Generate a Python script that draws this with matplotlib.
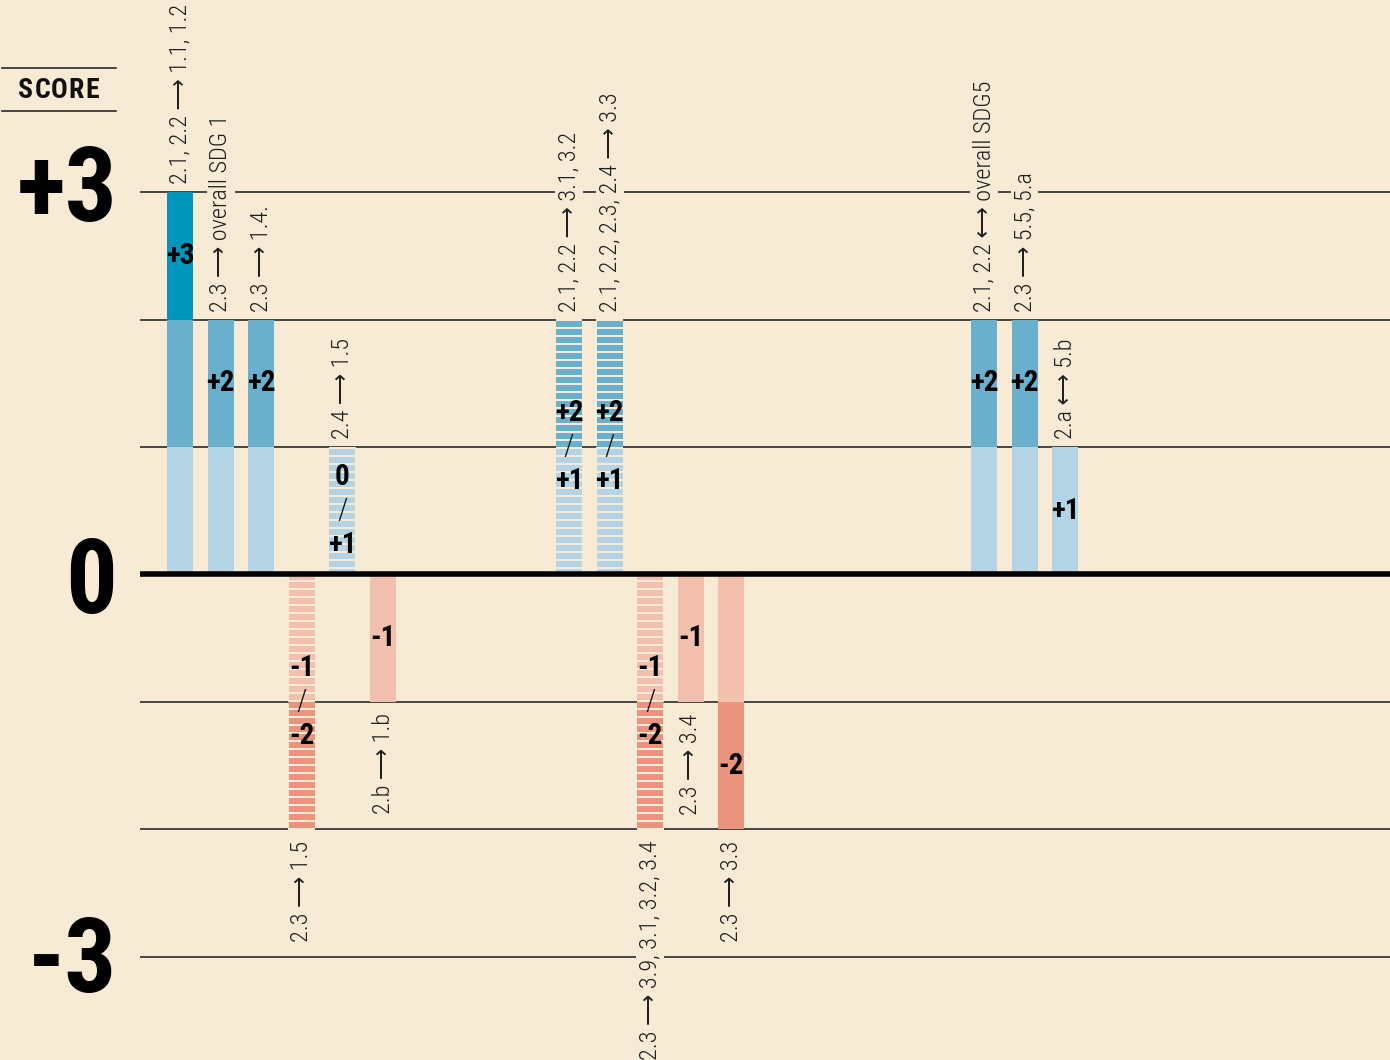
import matplotlib
matplotlib.use('Agg')
import matplotlib.pyplot as plt
from matplotlib.lines import Line2D
from matplotlib import font_manager as fm
import numpy as np

# pick a narrow face if one is installed
have = set(f.name for f in fm.fontManager.ttflist)
FONT = 'DejaVu Sans'
for cand in ['Roboto Condensed', 'Liberation Sans Narrow', 'Open Sans Condensed',
             'Noto Sans Condensed', 'DejaVu Sans Condensed']:
    if cand in have:
        FONT = cand
        break
plt.rcParams['font.family'] = [FONT, 'DejaVu Sans']
plt.rcParams['font.stretch'] = 'condensed'

# links between SDG2 targets and other SDG targets, scored -3..+3
links = ['2.1, 2.2 \u27f6 1.1, 1.2', '2.3 \u27f6 overall SDG 1', '2.3 \u27f6 1.4.',
         '2.3 \u27f6 1.5', '2.4 \u27f6 1.5', '2.b \u27f6 1.b',
         '2.1, 2.2 \u27f6 3.1, 3.2', '2.1, 2.2, 2.3, 2.4 \u27f6 3.3',
         '2.3 \u27f6 3.9, 3.1, 3.2, 3.4', '2.3 \u27f6 3.4', '2.3 \u27f6 3.3',
         '2.1, 2.2 \u27f7 overall SDG5', '2.3 \u27f6 5.5, 5.a', '2.a \u27f7 5.b']
extent = [3, 2, 2, -2, 1, -1, 2, 2, -2, -1, -2, 2, 2, 1]
score_txt = ['+3', '+2', '+2', '-1/-2', '0/+1', '-1', '+2/+1', '+2/+1',
             '-1/-2', '-1', '-2', '+2', '+2', '+1']
group = [0, 0, 0, 0, 0, 0, 1, 1, 1, 1, 1, 2, 2, 2]
axis_marks = [3, 0, -3]
axis_txt = ['+3', '0', '-3']

BG = '#f7ebd6'
pos_cols = ['#b4d4e6', '#6ab0cd', '#0096bc']
neg_cols = ['#f3bfae', '#ea937d', '#e06a55']

fig = plt.figure(figsize=(13.9, 10.6), dpi=100, facecolor=BG)
ax = fig.add_axes([140/1390., 0, 1 - 140/1390., 1])
ax.set_facecolor(BG)
for s in ax.spines.values():
    s.set_visible(False)

group_start = [0, 9.58, 19.8]
xs = []
cnt = {}
for g in group:
    k = cnt.get(g, 0)
    xs.append(group_start[g] + k)
    cnt[g] = k + 1

ax.set_xlim(-0.985, 29.8)
ax.set_ylim(-3.808, 4.506)

for lv in [3, 2, 1, -1, -2, -3]:
    ax.axhline(lv, color='#2a2a2a', lw=1.2, zorder=1)

w = 0.64
per = 0.0627
gap = 0.021
SF = 21
LF = 17.5
for x, e, st, lab in zip(xs, extent, score_txt, links):
    sgn = 1 if e > 0 else -1
    cols = pos_cols if e > 0 else neg_cols
    for k in range(abs(e)):
        bot = k if sgn > 0 else -k - 1
        ax.bar(x, 1, bottom=bot, width=w, color=cols[k], zorder=2, lw=0)
    parts = st.split('/')
    if len(parts) == 2:
        # striped bar = uncertain range
        ys = np.arange(0, abs(e), per)
        for y0 in ys:
            b = y0 + per - gap if sgn > 0 else -(y0 + per)
            ax.bar(x, gap, bottom=b, width=w + 0.02, color=BG, zorder=3, lw=0)
        c = e / 2.
        ax.text(x, c + 0.267, parts[0], ha='center', va='center', fontsize=SF,
                fontweight='bold', color='black', zorder=5)
        ax.text(x, c, '/', ha='center', va='center', fontsize=SF,
                fontweight='light', color='#111111', zorder=5)
        ax.text(x, c - 0.267, parts[1], ha='center', va='center', fontsize=SF,
                fontweight='bold', color='black', zorder=5)
    else:
        ax.text(x, e - 0.5 * sgn, st, ha='center', va='center', fontsize=SF,
                fontweight='bold', color='black', zorder=5)
    if sgn > 0:
        ax.text(x, e + 0.06, lab, rotation=90, ha='center', va='bottom',
                fontsize=LF, fontweight='light', color='#1e1e1e', zorder=4,
                bbox=dict(boxstyle='square,pad=0.1', fc=BG, ec='none'))
    else:
        ax.text(x, e - 0.09, lab, rotation=90, ha='center', va='top',
                fontsize=LF, fontweight='light', color='#1e1e1e', zorder=4,
                bbox=dict(boxstyle='square,pad=0.1', fc=BG, ec='none'))

ax.axhline(0, color='black', lw=4, zorder=6)
ax.set_xticks([])
ax.set_yticks([])

# big score marks on the left
tr = matplotlib.transforms.blended_transform_factory(fig.transFigure, ax.transData)
nudge = [0.08, 0.0, 0.03]
for v, t, d in zip(axis_marks, axis_txt, nudge):
    ax.text(117/1390., v + d, t, transform=tr, ha='right', va='center_baseline',
            fontsize=74, fontweight='bold', color='black')

# SCORE heading, letter-spaced
for i, ch in enumerate('SCORE'):
    fig.text((59 + (i - 2) * 16.8)/1390., 1 - 90/1060., ch, ha='center', va='center',
             fontsize=20, fontweight='bold', color='#111111')
for yy in [68, 111]:
    fig.add_artist(Line2D([2/1390., 116/1390.], [1 - yy/1060., 1 - yy/1060.],
                          transform=fig.transFigure, color='#2a2a2a', lw=1.2))

fig.savefig('out.png', dpi=100, facecolor=BG)
